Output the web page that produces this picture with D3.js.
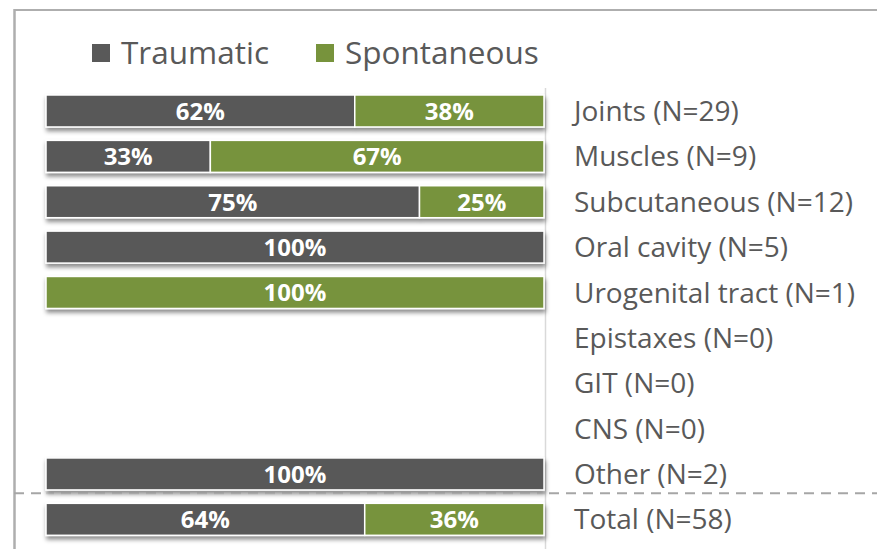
<!DOCTYPE html>
<html>
<head>
<meta charset="utf-8">
<script src="https://cdn.jsdelivr.net/npm/d3@7/dist/d3.min.js"></script>
<style>
  html, body { margin: 0; padding: 0; background: #fff; }
  svg { display: block; }
</style>
</head>
<body>
<svg id="chart" width="877" height="549"></svg>
<script>
// Bleeding sites, share of traumatic vs spontaneous episodes (%)
const categories = [
  "Joints (N=29)", "Muscles (N=9)", "Subcutaneous (N=12)", "Oral cavity (N=5)",
  "Urogenital tract (N=1)", "Epistaxes (N=0)", "GIT (N=0)", "CNS (N=0)",
  "Other (N=2)", "Total (N=58)"
];
const traumatic   = [62, 33, 75, 100, 0,   0, 0, 0, 100, 64];
const spontaneous = [38, 67, 25, 0,   100, 0, 0, 0, 0,   36];
const seriesNames = ["Traumatic", "Spontaneous"];
const colors = ["#595959", "#77933C"];

const W = 877, H = 549;
const svg = d3.select("#chart");
const font = "'Open Sans', sans-serif";

// drop shadow under each bar
const defs = svg.append("defs");
const f = defs.append("filter").attr("id", "shadow")
  .attr("x", "-5%").attr("y", "-30%").attr("width", "110%").attr("height", "160%");
f.append("feDropShadow").attr("dx", 1).attr("dy", 3.5)
  .attr("stdDeviation", 2).attr("flood-color", "#000").attr("flood-opacity", 0.45);

// outer frame (top and left edges)
svg.append("line").attr("x1", 14.5).attr("x2", W).attr("y1", 10).attr("y2", 10)
  .attr("stroke", "#aeaeae").attr("stroke-width", 2);
svg.append("line").attr("x1", 14.5).attr("x2", 14.5).attr("y1", 9).attr("y2", H)
  .attr("stroke", "#aeaeae").attr("stroke-width", 2.5);

const x = d3.scaleLinear().domain([0, 100]).range([46, 544]);
const y = d3.scaleBand().domain(categories).range([88.3, 542]).paddingInner(0.295).paddingOuter(0.1475);

// category axis on the right of the bars
svg.append("line").attr("x1", 545.5).attr("x2", 545.5).attr("y1", 88).attr("y2", H)
  .attr("stroke", "#d9d9d9").attr("stroke-width", 1.5);

// dashed separator above the total row; faint where it passes behind the bars
const sepY = (y("Other (N=2)") + y.bandwidth() + y("Total (N=58)")) / 2 - 3.5;
const sep = svg.append("g").attr("stroke", "#a6a6a6").attr("stroke-width", 2).attr("stroke-dasharray", "10,7");
sep.append("line").attr("x1", 14).attr("x2", 46).attr("y1", sepY).attr("y2", sepY);
sep.append("line").attr("x1", 46).attr("x2", 545).attr("y1", sepY).attr("y2", sepY)
  .attr("stroke-opacity", 0.25).attr("stroke-dashoffset", -32);
sep.append("line").attr("x1", 545).attr("x2", W).attr("y1", sepY).attr("y2", sepY)
  .attr("stroke-dashoffset", -531);

const rows = categories.map((c, i) => ({ cat: c, t: traumatic[i], s: spontaneous[i] }));
const stack = d3.stack().keys(["t", "s"])(rows);

const barG = svg.append("g");
rows.forEach((r, i) => {
  if (r.t + r.s === 0) return;
  const g = barG.append("g").attr("filter", "url(#shadow)");
  stack.forEach((layer, k) => {
    const d = layer[i];
    if (d[1] - d[0] <= 0) return;
    g.append("rect")
      .attr("x", x(d[0])).attr("width", x(d[1]) - x(d[0]))
      .attr("y", y(r.cat)).attr("height", y.bandwidth())
      .attr("fill", colors[k]).attr("stroke", "#fff").attr("stroke-width", 1.5);
  });
});

// value labels
stack.forEach((layer, k) => {
  layer.forEach((d, i) => {
    const v = d[1] - d[0];
    if (v <= 0) return;
    svg.append("text")
      .attr("x", (x(d[0]) + x(d[1])) / 2)
      .attr("y", y(categories[i]) + y.bandwidth() / 2)
      .attr("dy", "0.37em")
      .attr("text-anchor", "middle")
      .attr("font-family", font).attr("font-weight", 700).attr("font-size", 24)
      .attr("fill", "#fff")
      .text(v + "%");
  });
});

// category labels
categories.forEach(c => {
  svg.append("text")
    .attr("x", 574).attr("y", y(c) + y.bandwidth() / 2).attr("dy", "0.36em")
    .attr("font-family", font).attr("font-size", 28).attr("fill", "#595959")
    .text(c);
});

// legend
const legendX = [92, 316];
seriesNames.forEach((n, k) => {
  svg.append("rect").attr("x", legendX[k]).attr("y", 44).attr("width", 18).attr("height", 18)
    .attr("fill", colors[k]);
  svg.append("text").attr("x", legendX[k] + 29).attr("y", 63.5)
    .attr("font-family", font).attr("font-size", 31.5).attr("fill", "#595959")
    .text(n);
});
</script>
</body>
</html>
